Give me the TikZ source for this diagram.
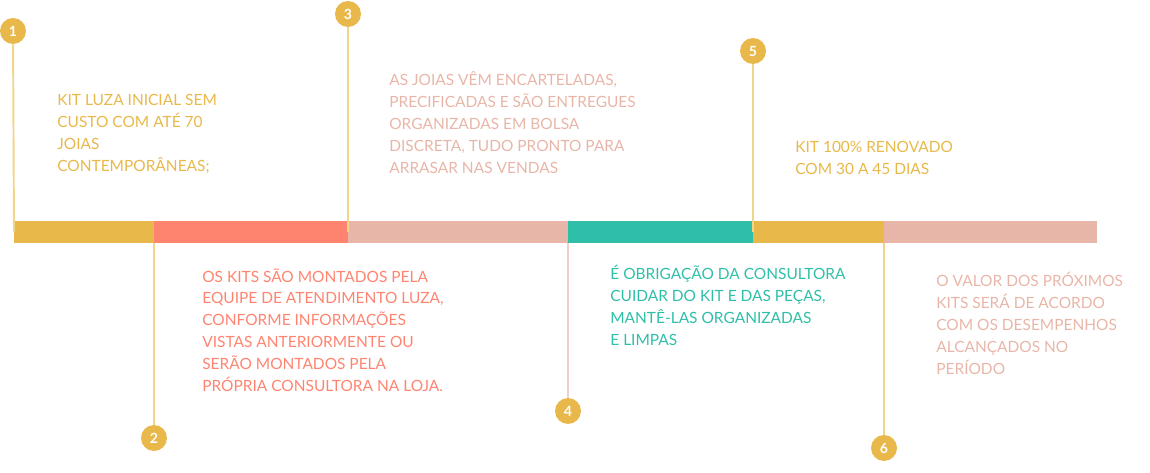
\documentclass[tikz,border=0pt]{standalone}
\usepackage{fontspec}
\setmainfont{Lato}
\definecolor{luzayellow}{HTML}{E8B84A}
\definecolor{luzacoral}{HTML}{FF8470}
\definecolor{luzapink}{HTML}{E8B6A8}
\definecolor{luzateal}{HTML}{2FBFA8}
\definecolor{stemyellow}{HTML}{F2D48A}
\definecolor{stempink}{HTML}{EFCFC6}
\begin{document}
\begin{tikzpicture}[
        x=0.02cm, y=-0.02cm,
        badge/.style={circle, fill=luzayellow, minimum size=0.52cm, inner sep=0pt, text=white, font=\fontsize{8}{8}\selectfont\bfseries},
        note/.style={anchor=north west, inner sep=0pt, align=left, font=\fontsize{8.8}{12.5}\selectfont},
        stem/.style={line width=1.1pt, draw=stemyellow}
    ]
        \useasboundingbox (0,0) rectangle (1150,473);

        % timeline bar
        \fill[luzayellow] (14,221) rectangle (154,243);
        \fill[luzacoral] (154,221) rectangle (348,243);
        \fill[luzapink] (348,221) rectangle (568,243);
        \fill[luzateal] (568,221) rectangle (753,243);
        \fill[luzayellow] (753,221) rectangle (884,243);
        \fill[luzapink] (884,221) rectangle (1097,243);

        \coordinate (p1) at (14,232);
        \coordinate (p2) at (154,243);
        \coordinate (p3) at (348,232);
        \coordinate (p4) at (568,243);
        \coordinate (p5) at (753,232);
        \coordinate (p6) at (884,243);

        \node[badge] (c1) at (13,31) {1};
        \node[badge] (c2) at (154,438) {2};
        \node[badge] (c3) at (348,14) {3};
        \node[badge] (c4) at (568,411) {4};
        \node[badge] (c5) at (753,51) {5};
        \node[badge] (c6) at (884,448) {6};

        \draw[stem] (c1) -- (p1);
        \draw[stem] (p2) -- (c2);
        \draw[stem] (c3) -- (p3);
        \draw[stem, draw=stempink] (p4) -- (c4);
        \draw[stem] (c5) -- (p5);
        \draw[stem] (p6) -- (c6);

        \node[note, text=luzayellow] (t1) at (57,94) {KIT LUZA INICIAL SEM\\CUSTO COM ATÉ 70\\JOIAS\\CONTEMPORÂNEAS;};
        \node[note, text=luzacoral] (t2) at (202,268) {OS KITS SÃO MONTADOS PELA\\EQUIPE DE ATENDIMENTO LUZA,\\CONFORME INFORMAÇÕES\\VISTAS ANTERIORMENTE OU\\SERÃO MONTADOS PELA\\PRÓPRIA CONSULTORA NA LOJA.};
        \node[note, text=luzapink] (t3) at (389,71) {AS JOIAS VÊM ENCARTELADAS,\\PRECIFICADAS E SÃO ENTREGUES\\ORGANIZADAS EM BOLSA\\DISCRETA, TUDO PRONTO PARA\\ARRASAR NAS VENDAS};
        \node[note, text=luzateal] (t4) at (610,265) {É OBRIGAÇÃO DA CONSULTORA\\CUIDAR DO KIT E DAS PEÇAS,\\MANTÊ-LAS ORGANIZADAS\\E LIMPAS};
        \node[note, text=luzayellow] (t5) at (795,141) {KIT 100\% RENOVADO\\COM 30 A 45 DIAS};
        \node[note, text=luzapink] (t6) at (936,272) {O VALOR DOS PRÓXIMOS\\KITS SERÁ DE ACORDO\\COM OS DESEMPENHOS\\ALCANÇADOS NO\\PERÍODO};
    \end{tikzpicture}
\end{document}
